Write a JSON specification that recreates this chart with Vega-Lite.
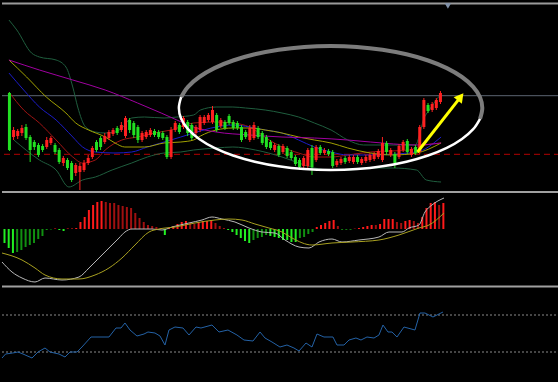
{
"$schema":"https://vega.github.io/schema/vega-lite/v6.json",
"background":"#000000",
"padding":0,
"spacing":0,
"bounds":"flush",
"resolve":{"scale":{"color":"independent"}},
"config":{"view":{"stroke":null},"axis":{"disable":true},"legend":{"disable":true}},
"datasets":{
"k":[
{"x":0,"o":10.7,"c":5.0,"h":10.8,"l":4.9},{"x":1,"o":6.3,"c":7.0,"h":7.3,"l":6.0},{"x":2,"o":6.4,"c":6.9,"h":7.1,"l":6.1},{"x":3,"o":6.7,"c":7.2,"h":7.5,"l":6.4},{"x":4,"o":7.3,"c":6.2,"h":7.6,"l":6.0},{"x":5,"o":6.3,"c":5.0,"h":6.5,"l":3.8},{"x":6,"o":5.8,"c":5.3,"h":6.0,"l":5.0},{"x":7,"o":5.5,"c":4.5,"h":5.7,"l":4.3},{"x":8,"o":5.4,"c":5.0,"h":5.6,"l":4.8},{"x":9,"o":5.3,"c":6.0,"h":6.3,"l":5.1},
{"x":10,"o":5.7,"c":6.2,"h":6.4,"l":5.5},{"x":11,"o":5.5,"c":4.8,"h":5.7,"l":4.6},{"x":12,"o":5.0,"c":3.8,"h":5.2,"l":3.6},{"x":13,"o":3.7,"c":4.2,"h":4.4,"l":3.4},{"x":14,"o":4.0,"c":3.2,"h":4.2,"l":3.0},{"x":15,"o":3.7,"c":2.0,"h":3.9,"l":1.8},{"x":16,"o":2.7,"c":3.5,"h":3.7,"l":2.4},{"x":17,"o":2.8,"c":3.4,"h":3.7,"l":1.0},{"x":18,"o":3.0,"c":3.7,"h":4.0,"l":2.8},{"x":19,"o":3.7,"c":4.2,"h":4.5,"l":3.5},
{"x":20,"o":4.3,"c":5.2,"h":5.4,"l":4.1},{"x":21,"o":5.8,"c":5.0,"h":6.0,"l":4.8},{"x":22,"o":6.2,"c":5.3,"h":6.4,"l":5.0},{"x":23,"o":5.8,"c":6.4,"h":6.7,"l":5.6},{"x":24,"o":6.2,"c":6.8,"h":7.0,"l":6.0},{"x":25,"o":6.6,"c":7.0,"h":7.2,"l":6.4},{"x":26,"o":7.2,"c":6.7,"h":7.4,"l":6.5},{"x":27,"o":7.0,"c":7.5,"h":7.8,"l":6.8},{"x":28,"o":6.4,"c":8.2,"h":8.4,"l":6.2},{"x":29,"o":8.0,"c":7.0,"h":8.2,"l":6.7},
{"x":30,"o":7.7,"c":6.5,"h":7.9,"l":6.2},{"x":31,"o":7.3,"c":6.0,"h":7.5,"l":5.7},{"x":32,"o":6.0,"c":6.7,"h":6.9,"l":5.8},{"x":33,"o":6.3,"c":6.8,"h":7.0,"l":6.1},{"x":34,"o":6.5,"c":7.0,"h":7.2,"l":6.3},{"x":35,"o":6.9,"c":6.5,"h":7.1,"l":6.3},{"x":36,"o":6.8,"c":6.3,"h":7.0,"l":6.1},{"x":37,"o":6.7,"c":6.2,"h":6.9,"l":6.0},{"x":38,"o":6.3,"c":4.3,"h":6.5,"l":4.1},{"x":39,"o":4.3,"c":7.0,"h":7.3,"l":4.1},
{"x":40,"o":7.0,"c":7.7,"h":7.9,"l":6.8},{"x":41,"o":7.5,"c":6.8,"h":7.7,"l":6.6},{"x":42,"o":7.3,"c":8.2,"h":8.4,"l":7.1},{"x":43,"o":7.8,"c":6.7,"h":8.0,"l":6.4},{"x":44,"o":7.5,"c":6.2,"h":7.7,"l":6.0},{"x":45,"o":6.7,"c":7.3,"h":7.5,"l":6.5},{"x":46,"o":7.0,"c":8.3,"h":8.5,"l":6.8},{"x":47,"o":7.7,"c":8.3,"h":8.5,"l":7.5},{"x":48,"o":8.0,"c":8.5,"h":8.7,"l":7.8},{"x":49,"o":7.8,"c":9.0,"h":9.4,"l":7.6},
{"x":50,"o":8.5,"c":7.0,"h":8.7,"l":6.8},{"x":51,"o":7.4,"c":8.0,"h":8.2,"l":7.2},{"x":52,"o":7.8,"c":7.2,"h":8.0,"l":7.0},{"x":53,"o":8.4,"c":7.7,"h":8.6,"l":7.5},{"x":54,"o":7.8,"c":7.2,"h":8.0,"l":7.0},{"x":55,"o":7.7,"c":7.2,"h":7.9,"l":7.0},{"x":56,"o":7.3,"c":6.0,"h":7.5,"l":5.8},{"x":57,"o":6.8,"c":6.3,"h":7.0,"l":6.1},{"x":58,"o":6.0,"c":7.2,"h":7.5,"l":5.8},{"x":59,"o":6.2,"c":7.5,"h":7.8,"l":6.0},
{"x":60,"o":7.2,"c":6.3,"h":7.4,"l":6.1},{"x":61,"o":6.7,"c":5.7,"h":6.9,"l":5.5},{"x":62,"o":6.3,"c":5.3,"h":6.5,"l":5.1},{"x":63,"o":5.8,"c":5.2,"h":6.0,"l":5.0},{"x":64,"o":5.0,"c":5.5,"h":5.7,"l":4.8},{"x":65,"o":5.4,"c":4.5,"h":5.6,"l":4.3},{"x":66,"o":4.8,"c":5.4,"h":5.6,"l":4.6},{"x":67,"o":5.2,"c":4.4,"h":5.4,"l":4.2},{"x":68,"o":4.8,"c":4.2,"h":5.0,"l":4.0},{"x":69,"o":4.3,"c":3.6,"h":4.5,"l":3.4},
{"x":70,"o":4.0,"c":3.3,"h":4.2,"l":3.0},{"x":71,"o":3.4,"c":4.2,"h":4.4,"l":3.2},{"x":72,"o":3.4,"c":5.0,"h":5.2,"l":3.2},{"x":73,"o":5.2,"c":3.3,"h":5.5,"l":2.5},{"x":74,"o":4.0,"c":5.3,"h":5.5,"l":3.8},{"x":75,"o":5.3,"c":4.7,"h":5.5,"l":4.5},{"x":76,"o":4.7,"c":5.0,"h":5.2,"l":4.5},{"x":77,"o":4.9,"c":4.6,"h":5.1,"l":4.4},{"x":78,"o":4.8,"c":3.4,"h":5.0,"l":3.2},{"x":79,"o":3.5,"c":3.9,"h":4.1,"l":3.3},
{"x":80,"o":3.7,"c":4.1,"h":4.3,"l":3.5},{"x":81,"o":4.2,"c":3.8,"h":4.4,"l":3.6},{"x":82,"o":3.9,"c":4.3,"h":4.5,"l":3.7},{"x":83,"o":3.8,"c":4.3,"h":4.5,"l":3.6},{"x":84,"o":4.3,"c":3.8,"h":4.5,"l":3.6},{"x":85,"o":3.7,"c":4.1,"h":4.3,"l":3.5},{"x":86,"o":3.9,"c":4.3,"h":4.5,"l":3.7},{"x":87,"o":4.0,"c":4.5,"h":4.7,"l":3.8},{"x":88,"o":4.1,"c":4.6,"h":4.8,"l":3.9},{"x":89,"o":4.3,"c":4.9,"h":5.1,"l":4.1},
{"x":90,"o":4.0,"c":5.7,"h":6.3,"l":3.8},{"x":91,"o":5.7,"c":4.8,"h":5.9,"l":4.5},{"x":92,"o":4.5,"c":5.0,"h":5.2,"l":4.3},{"x":93,"o":4.6,"c":3.7,"h":4.8,"l":3.2},{"x":94,"o":4.3,"c":5.4,"h":5.6,"l":4.1},{"x":95,"o":5.0,"c":5.8,"h":6.0,"l":4.8},{"x":96,"o":5.9,"c":4.8,"h":6.1,"l":4.6},{"x":97,"o":4.5,"c":5.1,"h":5.3,"l":4.3},{"x":98,"o":5.3,"c":4.7,"h":5.5,"l":4.5},{"x":99,"o":4.8,"c":7.3,"h":7.5,"l":4.6},
{"x":100,"o":7.3,"c":10.0,"h":10.2,"l":7.1},{"x":101,"o":9.5,"c":8.9,"h":9.7,"l":8.7},{"x":102,"o":9.0,"c":9.6,"h":9.8,"l":8.8},{"x":103,"o":9.2,"c":10.0,"h":10.2,"l":9.0},{"x":104,"o":9.8,"c":10.7,"h":10.9,"l":9.6}
],
"ma":[
{"s":"bu","x":-0.12,"p":18.0},{"s":"bu","x":1.78,"p":17.0},{"s":"bu","x":5.33,"p":14.7},{"s":"bu","x":7.23,"p":14.3},{"s":"bu","x":11.26,"p":14.0},{"s":"bu","x":13.63,"p":13.3},{"s":"bu","x":15.28,"p":11.3},{"s":"bu","x":16.47,"p":9.3},{"s":"bu","x":18.36,"p":7.3},{"s":"bu","x":20.73,"p":6.8},{"s":"bu","x":23.1,"p":6.7},{"s":"bu","x":25.47,"p":6.8},{"s":"bu","x":27.13,"p":7.2},{"s":"bu","x":29.5,"p":8.2},{"s":"bu","x":32.58,"p":8.3},{"s":"bu","x":37.32,"p":8.2},{"s":"bu","x":40.4,"p":8.3},{"s":"bu","x":44.43,"p":8.5},{"s":"bu","x":46.09,"p":9.0},{"s":"bu","x":49.88,"p":9.3},{"s":"bu","x":53.91,"p":9.3},{"s":"bu","x":56.99,"p":9.2},{"s":"bu","x":61.73,"p":9.0},{"s":"bu","x":65.76,"p":8.7},{"s":"bu","x":69.79,"p":8.3},{"s":"bu","x":73.58,"p":7.7},{"s":"bu","x":77.61,"p":7.0},{"s":"bu","x":81.64,"p":6.0},{"s":"bu","x":85.43,"p":5.5},{"s":"bu","x":89.45,"p":5.5},{"s":"bu","x":97.99,"p":5.5},{"s":"bu","x":98.93,"p":6.5},{"s":"bu","x":99.88,"p":8.0},{"s":"bu","x":101.3,"p":9.0},{"s":"bu","x":103.91,"p":10.5},
{"s":"bl","x":1.07,"p":6.0},{"s":"bl","x":7.23,"p":4.0},{"s":"bl","x":11.26,"p":3.0},{"s":"bl","x":14.34,"p":1.3},{"s":"bl","x":17.65,"p":2.0},{"s":"bl","x":20.73,"p":2.3},{"s":"bl","x":24.76,"p":3.0},{"s":"bl","x":29.5,"p":3.7},{"s":"bl","x":33.29,"p":4.3},{"s":"bl","x":37.32,"p":4.7},{"s":"bl","x":41.35,"p":4.8},{"s":"bl","x":44.43,"p":5.0},{"s":"bl","x":49.88,"p":5.2},{"s":"bl","x":53.91,"p":5.3},{"s":"bl","x":59.36,"p":5.0},{"s":"bl","x":65.76,"p":4.3},{"s":"bl","x":69.79,"p":3.7},{"s":"bl","x":73.58,"p":3.2},{"s":"bl","x":77.61,"p":3.0},{"s":"bl","x":81.64,"p":3.0},{"s":"bl","x":87.09,"p":3.2},{"s":"bl","x":92.54,"p":3.2},{"s":"bl","x":98.22,"p":3.0},{"s":"bl","x":100.59,"p":2.0},{"s":"bl","x":104.15,"p":1.8},
{"s":"r","x":-0.12,"p":10.8},{"s":"r","x":3.44,"p":9.0},{"s":"r","x":7.23,"p":7.7},{"s":"r","x":11.26,"p":6.0},{"s":"r","x":15.28,"p":4.3},{"s":"r","x":17.65,"p":3.7},{"s":"r","x":20.73,"p":4.0},{"s":"r","x":23.1,"p":5.0},{"s":"r","x":27.13,"p":6.0},{"s":"r","x":30.92,"p":6.3},{"s":"r","x":34.95,"p":6.7},{"s":"r","x":38.98,"p":7.0},{"s":"r","x":44.43,"p":7.7},{"s":"r","x":49.88,"p":7.8},{"s":"r","x":53.91,"p":7.7},{"s":"r","x":57.94,"p":7.3},{"s":"r","x":62.67,"p":6.0},{"s":"r","x":65.76,"p":5.3},{"s":"r","x":69.79,"p":4.7},{"s":"r","x":73.58,"p":4.3},{"s":"r","x":77.61,"p":4.3},{"s":"r","x":81.64,"p":4.5},{"s":"r","x":87.09,"p":4.8},{"s":"r","x":96.56,"p":5.0},{"s":"r","x":98.46,"p":5.3},{"s":"r","x":104.15,"p":5.7},
{"s":"b","x":-0.12,"p":12.7},{"s":"b","x":3.44,"p":11.0},{"s":"b","x":7.23,"p":9.3},{"s":"b","x":11.26,"p":8.0},{"s":"b","x":15.28,"p":6.3},{"s":"b","x":17.65,"p":5.3},{"s":"b","x":20.73,"p":4.8},{"s":"b","x":25.47,"p":4.7},{"s":"b","x":29.5,"p":4.8},{"s":"b","x":33.29,"p":5.3},{"s":"b","x":37.32,"p":5.8},{"s":"b","x":41.35,"p":6.3},{"s":"b","x":44.43,"p":6.7},{"s":"b","x":49.88,"p":7.3},{"s":"b","x":53.91,"p":7.5},{"s":"b","x":57.94,"p":7.3},{"s":"b","x":61.73,"p":7.0},{"s":"b","x":65.76,"p":6.7},{"s":"b","x":69.79,"p":6.0},{"s":"b","x":73.58,"p":5.3},{"s":"b","x":77.61,"p":4.8},{"s":"b","x":81.64,"p":4.5},{"s":"b","x":87.09,"p":4.5},{"s":"b","x":98.22,"p":4.8},{"s":"b","x":104.15,"p":6.3},
{"s":"y","x":-0.12,"p":14.0},{"s":"y","x":4.15,"p":12.3},{"s":"y","x":8.89,"p":10.3},{"s":"y","x":13.63,"p":8.7},{"s":"y","x":16.0,"p":7.7},{"s":"y","x":19.08,"p":7.0},{"s":"y","x":23.1,"p":6.3},{"s":"y","x":25.47,"p":5.7},{"s":"y","x":27.84,"p":5.3},{"s":"y","x":32.58,"p":5.3},{"s":"y","x":37.32,"p":5.7},{"s":"y","x":41.35,"p":5.8},{"s":"y","x":44.43,"p":6.0},{"s":"y","x":46.09,"p":6.4},{"s":"y","x":49.88,"p":7.0},{"s":"y","x":53.91,"p":7.2},{"s":"y","x":57.94,"p":7.2},{"s":"y","x":61.73,"p":7.0},{"s":"y","x":65.76,"p":6.7},{"s":"y","x":69.79,"p":6.3},{"s":"y","x":73.58,"p":6.0},{"s":"y","x":77.61,"p":5.7},{"s":"y","x":81.64,"p":5.2},{"s":"y","x":87.09,"p":4.7},{"s":"y","x":92.54,"p":4.5},{"s":"y","x":98.22,"p":4.7},{"s":"y","x":104.15,"p":5.7},
{"s":"m","x":-0.12,"p":14.0},{"s":"m","x":7.23,"p":13.0},{"s":"m","x":15.28,"p":12.0},{"s":"m","x":23.1,"p":11.0},{"s":"m","x":30.92,"p":9.7},{"s":"m","x":36.61,"p":8.7},{"s":"m","x":40.4,"p":8.0},{"s":"m","x":44.43,"p":7.3},{"s":"m","x":49.88,"p":6.8},{"s":"m","x":57.94,"p":6.5},{"s":"m","x":65.76,"p":6.3},{"s":"m","x":73.58,"p":6.2},{"s":"m","x":81.64,"p":6.0},{"s":"m","x":87.09,"p":5.8},{"s":"m","x":98.22,"p":5.5},{"s":"m","x":104.15,"p":5.7}
],
"ell":[
{"s":"w","n":0,"x":41.43,"p":10.28},{"s":"w","n":1,"x":40.88,"p":9.2},{"s":"w","n":2,"x":41.43,"p":8.12},{"s":"w","n":3,"x":43.08,"p":7.08},{"s":"w","n":4,"x":45.79,"p":6.1},{"s":"w","n":5,"x":49.45,"p":5.21},{"s":"w","n":6,"x":53.95,"p":4.45},{"s":"w","n":7,"x":59.19,"p":3.83},{"s":"w","n":8,"x":64.97,"p":3.37},{"s":"w","n":9,"x":71.12,"p":3.09},{"s":"w","n":10,"x":77.49,"p":3.0},{"s":"w","n":11,"x":83.86,"p":3.09},{"s":"w","n":12,"x":90.01,"p":3.37},{"s":"w","n":13,"x":95.8,"p":3.83},{"s":"w","n":14,"x":101.03,"p":4.45},{"s":"w","n":15,"x":105.53,"p":5.21},{"s":"w","n":16,"x":109.19,"p":6.1},{"s":"w","n":17,"x":111.9,"p":7.08},{"s":"w","n":18,"x":113.55,"p":8.12},
{"s":"g","n":0,"x":113.55,"p":8.12},{"s":"g","n":1,"x":114.1,"p":9.2},{"s":"g","n":2,"x":113.55,"p":10.28},{"s":"g","n":3,"x":111.9,"p":11.32},{"s":"g","n":4,"x":109.19,"p":12.3},{"s":"g","n":5,"x":105.53,"p":13.19},{"s":"g","n":6,"x":101.03,"p":13.95},{"s":"g","n":7,"x":95.8,"p":14.57},{"s":"g","n":8,"x":90.01,"p":15.03},{"s":"g","n":9,"x":83.86,"p":15.31},{"s":"g","n":10,"x":77.49,"p":15.4},{"s":"g","n":11,"x":71.12,"p":15.31},{"s":"g","n":12,"x":64.97,"p":15.03},{"s":"g","n":13,"x":59.19,"p":14.57},{"s":"g","n":14,"x":53.95,"p":13.95},{"s":"g","n":15,"x":49.45,"p":13.19},{"s":"g","n":16,"x":45.79,"p":12.3},{"s":"g","n":17,"x":43.08,"p":11.32},{"s":"g","n":18,"x":41.43,"p":10.28}
],
"hist":[
{"x":0,"m":-0.14,"g":1},{"x":1,"m":-0.19,"g":1},{"x":2,"m":-0.24,"g":1},{"x":3,"m":-0.23,"g":0},{"x":4,"m":-0.21,"g":0},{"x":5,"m":-0.18,"g":0},{"x":6,"m":-0.16,"g":0},{"x":7,"m":-0.14,"g":0},{"x":8,"m":-0.10,"g":0},{"x":9,"m":-0.07,"g":0},
{"x":10,"m":-0.01,"g":0},{"x":11,"m":-0.005,"g":0},{"x":12,"m":0.005,"g":1},{"x":13,"m":-0.01,"g":1},{"x":14,"m":-0.02,"g":1},{"x":15,"m":0.005,"g":1},{"x":16,"m":0.005,"g":1},{"x":17,"m":0.01,"g":1},{"x":18,"m":0.07,"g":1},{"x":19,"m":0.12,"g":1},
{"x":20,"m":0.19,"g":1},{"x":21,"m":0.24,"g":1},{"x":22,"m":0.27,"g":1},{"x":23,"m":0.28,"g":1},{"x":24,"m":0.27,"g":0},{"x":25,"m":0.26,"g":0},{"x":26,"m":0.26,"g":0},{"x":27,"m":0.24,"g":0},{"x":28,"m":0.23,"g":0},{"x":29,"m":0.22,"g":0},
{"x":30,"m":0.21,"g":0},{"x":31,"m":0.16,"g":0},{"x":32,"m":0.11,"g":0},{"x":33,"m":0.07,"g":0},{"x":34,"m":0.04,"g":0},{"x":35,"m":0.03,"g":0},{"x":36,"m":0.02,"g":0},{"x":37,"m":0.01,"g":0},{"x":38,"m":-0.06,"g":1},{"x":39,"m":0.01,"g":1},
{"x":40,"m":0.03,"g":1},{"x":41,"m":0.05,"g":1},{"x":42,"m":0.07,"g":1},{"x":43,"m":0.08,"g":1},{"x":44,"m":0.06,"g":0},{"x":45,"m":0.05,"g":0},{"x":46,"m":0.07,"g":1},{"x":47,"m":0.08,"g":1},{"x":48,"m":0.08,"g":1},{"x":49,"m":0.09,"g":1},
{"x":50,"m":0.06,"g":0},{"x":51,"m":0.03,"g":0},{"x":52,"m":0.01,"g":0},{"x":53,"m":-0.01,"g":1},{"x":54,"m":-0.03,"g":1},{"x":55,"m":-0.06,"g":1},{"x":56,"m":-0.09,"g":1},{"x":57,"m":-0.12,"g":1},{"x":58,"m":-0.14,"g":1},{"x":59,"m":-0.11,"g":0},
{"x":60,"m":-0.09,"g":0},{"x":61,"m":-0.08,"g":0},{"x":62,"m":-0.06,"g":0},{"x":63,"m":-0.07,"g":1},{"x":64,"m":-0.08,"g":1},{"x":65,"m":-0.09,"g":1},{"x":66,"m":-0.11,"g":1},{"x":67,"m":-0.11,"g":1},{"x":68,"m":-0.13,"g":1},{"x":69,"m":-0.13,"g":1},
{"x":70,"m":-0.09,"g":0},{"x":71,"m":-0.08,"g":0},{"x":72,"m":-0.05,"g":0},{"x":73,"m":-0.03,"g":0},{"x":74,"m":0.02,"g":1},{"x":75,"m":0.04,"g":1},{"x":76,"m":0.06,"g":1},{"x":77,"m":0.08,"g":1},{"x":78,"m":0.09,"g":1},{"x":79,"m":0.03,"g":0},
{"x":80,"m":-0.005,"g":1},{"x":81,"m":-0.005,"g":1},{"x":82,"m":-0.005,"g":1},{"x":83,"m":0.005,"g":0},{"x":84,"m":0.01,"g":1},{"x":85,"m":0.02,"g":1},{"x":86,"m":0.03,"g":1},{"x":87,"m":0.04,"g":1},{"x":88,"m":0.04,"g":0},{"x":89,"m":0.05,"g":1},
{"x":90,"m":0.10,"g":1},{"x":91,"m":0.10,"g":1},{"x":92,"m":0.10,"g":1},{"x":93,"m":0.07,"g":0},{"x":94,"m":0.06,"g":0},{"x":95,"m":0.08,"g":1},{"x":96,"m":0.09,"g":1},{"x":97,"m":0.08,"g":0},{"x":98,"m":0.06,"g":0},{"x":99,"m":0.12,"g":1},
{"x":100,"m":0.21,"g":1},{"x":101,"m":0.26,"g":1},{"x":102,"m":0.27,"g":1},{"x":103,"m":0.24,"g":0},{"x":104,"m":0.26,"g":1}
],
"ml":[
{"s":"dif","x":-0.59,"m":-0.33},{"s":"dif","x":1.78,"m":-0.43},{"s":"dif","x":4.15,"m":-0.49},{"s":"dif","x":7.23,"m":-0.53},{"s":"dif","x":9.6,"m":-0.49},{"s":"dif","x":13.63,"m":-0.51},{"s":"dif","x":17.65,"m":-0.48},{"s":"dif","x":20.02,"m":-0.39},{"s":"dif","x":22.39,"m":-0.29},{"s":"dif","x":24.76,"m":-0.19},{"s":"dif","x":27.13,"m":-0.09},{"s":"dif","x":28.55,"m":-0.03},{"s":"dif","x":30.21,"m":0.0},{"s":"dif","x":34.95,"m":0.0},{"s":"dif","x":37.32,"m":-0.01},{"s":"dif","x":39.69,"m":0.02},{"s":"dif","x":43.72,"m":0.06},{"s":"dif","x":46.8,"m":0.09},{"s":"dif","x":49.17,"m":0.12},{"s":"dif","x":51.54,"m":0.10},{"s":"dif","x":54.62,"m":0.07},{"s":"dif","x":57.94,"m":0.01},{"s":"dif","x":61.02,"m":-0.03},{"s":"dif","x":64.1,"m":-0.04},{"s":"dif","x":66.47,"m":-0.11},{"s":"dif","x":69.79,"m":-0.18},{"s":"dif","x":72.16,"m":-0.19},{"s":"dif","x":74.53,"m":-0.13},{"s":"dif","x":77.61,"m":-0.10},{"s":"dif","x":79.98,"m":-0.13},{"s":"dif","x":84.0,"m":-0.11},{"s":"dif","x":88.74,"m":-0.08},{"s":"dif","x":91.11,"m":-0.03},{"s":"dif","x":94.19,"m":-0.03},{"s":"dif","x":95.85,"m":0.01},{"s":"dif","x":98.22,"m":0.04},{"s":"dif","x":99.64,"m":0.17},{"s":"dif","x":101.3,"m":0.24},{"s":"dif","x":104.15,"m":0.31},
{"s":"dea","x":-0.59,"m":-0.24},{"s":"dea","x":4.15,"m":-0.31},{"s":"dea","x":7.23,"m":-0.39},{"s":"dea","x":9.6,"m":-0.46},{"s":"dea","x":13.63,"m":-0.50},{"s":"dea","x":17.65,"m":-0.50},{"s":"dea","x":21.45,"m":-0.46},{"s":"dea","x":24.76,"m":-0.39},{"s":"dea","x":27.84,"m":-0.29},{"s":"dea","x":30.92,"m":-0.16},{"s":"dea","x":34.24,"m":-0.03},{"s":"dea","x":36.61,"m":0.0},{"s":"dea","x":40.4,"m":0.02},{"s":"dea","x":45.14,"m":0.06},{"s":"dea","x":49.88,"m":0.09},{"s":"dea","x":53.2,"m":0.10},{"s":"dea","x":56.28,"m":0.09},{"s":"dea","x":59.36,"m":0.05},{"s":"dea","x":62.67,"m":0.01},{"s":"dea","x":65.76,"m":-0.03},{"s":"dea","x":68.13,"m":-0.09},{"s":"dea","x":72.87,"m":-0.16},{"s":"dea","x":77.61,"m":-0.14},{"s":"dea","x":82.35,"m":-0.13},{"s":"dea","x":88.74,"m":-0.11},{"s":"dea","x":93.48,"m":-0.06},{"s":"dea","x":98.22,"m":0.01},{"s":"dea","x":100.59,"m":0.04},{"s":"dea","x":104.15,"m":0.16}
],
"rsi":[
{"x":-0.59,"r":24},{"x":0.26,"r":28},{"x":1.94,"r":29},{"x":3.2,"r":30},{"x":4.38,"r":28},{"x":6.52,"r":24},{"x":7.94,"r":30},{"x":9.6,"r":34},{"x":10.78,"r":30},{"x":12.91,"r":28},{"x":14.34,"r":25},{"x":15.52,"r":30},{"x":17.18,"r":30},{"x":18.36,"r":35},{"x":20.5,"r":45},{"x":22.16,"r":45},{"x":24.76,"r":45},{"x":26.42,"r":54},{"x":27.61,"r":54},{"x":28.55,"r":59},{"x":29.74,"r":52},{"x":31.4,"r":46},{"x":33.06,"r":48},{"x":34.0,"r":50},{"x":35.66,"r":49},{"x":36.85,"r":46},{"x":38.03,"r":37},{"x":38.98,"r":52},{"x":40.4,"r":55},{"x":42.3,"r":54},{"x":43.72,"r":47},{"x":45.38,"r":55},{"x":46.56,"r":54},{"x":49.17,"r":57},{"x":50.83,"r":50},{"x":52.96,"r":52},{"x":55.09,"r":47},{"x":56.75,"r":42},{"x":58.89,"r":41},{"x":60.55,"r":50},{"x":61.73,"r":44},{"x":63.39,"r":40},{"x":65.28,"r":35},{"x":66.94,"r":37},{"x":68.6,"r":34},{"x":69.79,"r":31},{"x":71.45,"r":39},{"x":72.87,"r":35},{"x":74.05,"r":48},{"x":75.71,"r":45},{"x":77.84,"r":45},{"x":78.79,"r":37},{"x":80.45,"r":37},{"x":81.64,"r":42},{"x":83.29,"r":44},{"x":84.48,"r":42},{"x":85.9,"r":45},{"x":87.56,"r":44},{"x":88.74,"r":47},{"x":89.69,"r":57},{"x":90.88,"r":50},{"x":91.82,"r":50},{"x":93.01,"r":45},{"x":94.67,"r":55},{"x":97.27,"r":52},{"x":98.46,"r":69},{"x":99.64,"r":69},{"x":101.54,"r":65},{"x":103.91,"r":70}
]
},
"vconcat":[
{"width":558,"height":194,
"layer":[
{"data":{"values":[{}]},"mark":{"type":"rule","color":"#9a9a9a","strokeWidth":2},"encoding":{"y":{"datum":19.65,"type":"quantitative","scale":{"domain":[0.6,20],"nice":false,"zero":false}}}},
{"data":{"values":[{}]},"mark":{"type":"rule","color":"#5c6472","strokeWidth":1},"encoding":{"y":{"datum":10.43,"type":"quantitative"}}},
{"data":{"values":[{}]},"mark":{"type":"rule","color":"#b40000","strokeWidth":1,"strokeDash":[6,4]},"encoding":{"y":{"datum":4.57,"type":"quantitative"}}},
{"data":{"values":[{}]},"mark":{"type":"rule","color":"#a0a0a0","strokeWidth":2},"encoding":{"y":{"datum":0.8,"type":"quantitative"}}},
{"data":{"name":"ma"},"mark":{"type":"line","strokeWidth":1,"interpolate":"monotone"},"encoding":{"x":{"field":"x","type":"quantitative","scale":{"domain":[-0.59,131.64],"nice":false,"zero":false}},"y":{"field":"p","type":"quantitative","scale":{"domain":[0.6,20],"nice":false,"zero":false}},"color":{"field":"s","type":"nominal","scale":{"domain":["bu","bl","r","b","y","m"],"range":["#1f5e3e","#1f5e3e","#a01414","#1c1cc8","#a0a000","#a000a0"]},"legend":null}}},
{"data":{"name":"k"},"mark":{"type":"rule","strokeWidth":1},"encoding":{"x":{"field":"x","type":"quantitative","scale":{"domain":[-0.59,131.64],"nice":false,"zero":false}},"y":{"field":"l","type":"quantitative","scale":{"domain":[0.6,20],"nice":false,"zero":false}},"y2":{"field":"h"},"color":{"condition":{"test":"datum.c >= datum.o","value":"#ff2020"},"value":"#22e022"}}},
{"data":{"name":"k"},"mark":{"type":"bar","width":3},"encoding":{"x":{"field":"x","type":"quantitative","scale":{"domain":[-0.59,131.64],"nice":false,"zero":false}},"y":{"field":"o","type":"quantitative","scale":{"domain":[0.6,20],"nice":false,"zero":false}},"y2":{"field":"c"},"color":{"condition":{"test":"datum.c >= datum.o","value":"#ff2020"},"value":"#22e022"}}},
{"data":{"name":"ell"},"transform":[{"filter":"datum.s == 'g'"}],"mark":{"type":"line","strokeWidth":4,"color":"#7c7c7c","interpolate":"cardinal"},"encoding":{"x":{"field":"x","type":"quantitative","scale":{"domain":[-0.59,131.64],"nice":false,"zero":false}},"y":{"field":"p","type":"quantitative","scale":{"domain":[0.6,20],"nice":false,"zero":false}},"order":{"field":"n"}}},
{"data":{"name":"ell"},"transform":[{"filter":"datum.s == 'w'"}],"mark":{"type":"line","strokeWidth":2.5,"color":"#ffffff","interpolate":"cardinal"},"encoding":{"x":{"field":"x","type":"quantitative","scale":{"domain":[-0.59,131.64],"nice":false,"zero":false}},"y":{"field":"p","type":"quantitative","scale":{"domain":[0.6,20],"nice":false,"zero":false}},"order":{"field":"n"}}},
{"data":{"values":[{"n":0,"x":98.46,"p":4.8},{"n":1,"x":108.41,"p":10.07}]},"mark":{"type":"line","strokeWidth":3,"color":"#ffff00"},"encoding":{"x":{"field":"x","type":"quantitative","scale":{"domain":[-0.59,131.64],"nice":false,"zero":false}},"y":{"field":"p","type":"quantitative","scale":{"domain":[0.6,20],"nice":false,"zero":false}},"order":{"field":"n"}}},
{"data":{"values":[{"x":108.86,"p":10.31}]},"mark":{"type":"point","shape":"triangle-up","filled":true,"size":110,"angle":38.5,"color":"#ffff00","opacity":1},"encoding":{"x":{"field":"x","type":"quantitative","scale":{"domain":[-0.59,131.64],"nice":false,"zero":false}},"y":{"field":"p","type":"quantitative","scale":{"domain":[0.6,20],"nice":false,"zero":false}}}},
{"data":{"values":[{"x":105.8,"p":19.4}]},"mark":{"type":"point","shape":"triangle-down","filled":true,"size":40,"color":"#8090a8","opacity":1},"encoding":{"x":{"field":"x","type":"quantitative","scale":{"domain":[-0.59,131.64],"nice":false,"zero":false}},"y":{"field":"p","type":"quantitative","scale":{"domain":[0.6,20],"nice":false,"zero":false}}}}
]},
{"width":558,"height":94,
"layer":[
{"data":{"name":"hist"},"mark":{"type":"rule","strokeWidth":2},"encoding":{"x":{"field":"x","type":"quantitative","scale":{"domain":[-0.59,131.64],"nice":false,"zero":false}},"y":{"field":"m","type":"quantitative","scale":{"domain":[-0.59,0.35],"nice":false,"zero":false}},"y2":{"datum":0},"color":{"condition":[{"test":"datum.m >= 0 && datum.g == 1","value":"#ff1a1a"},{"test":"datum.m >= 0","value":"#a01010"},{"test":"datum.g == 1","value":"#22f022"}],"value":"#119011"}}},
{"data":{"name":"ml"},"mark":{"type":"line","strokeWidth":1,"interpolate":"monotone"},"encoding":{"x":{"field":"x","type":"quantitative","scale":{"domain":[-0.59,131.64],"nice":false,"zero":false}},"y":{"field":"m","type":"quantitative","scale":{"domain":[-0.59,0.35],"nice":false,"zero":false}},"color":{"field":"s","type":"nominal","scale":{"domain":["dif","dea"],"range":["#b8b8b8","#a8a020"]},"legend":null}}},
{"data":{"values":[{}]},"mark":{"type":"rule","color":"#a0a0a0","strokeWidth":2},"encoding":{"y":{"datum":-0.575,"type":"quantitative"}}}
]},
{"width":558,"height":94,
"layer":[
{"data":{"values":[{"r":67},{"r":30}]},"mark":{"type":"rule","color":"#8a8a8a","strokeWidth":1,"strokeDash":[2,2]},"encoding":{"y":{"field":"r","type":"quantitative","scale":{"domain":[0,94],"nice":false,"zero":false}}}},
{"data":{"name":"rsi"},"mark":{"type":"line","strokeWidth":1,"color":"#2462a6"},"encoding":{"x":{"field":"x","type":"quantitative","scale":{"domain":[-0.59,131.64],"nice":false,"zero":false}},"y":{"field":"r","type":"quantitative","scale":{"domain":[0,94],"nice":false,"zero":false}}}}
]}
]
}
